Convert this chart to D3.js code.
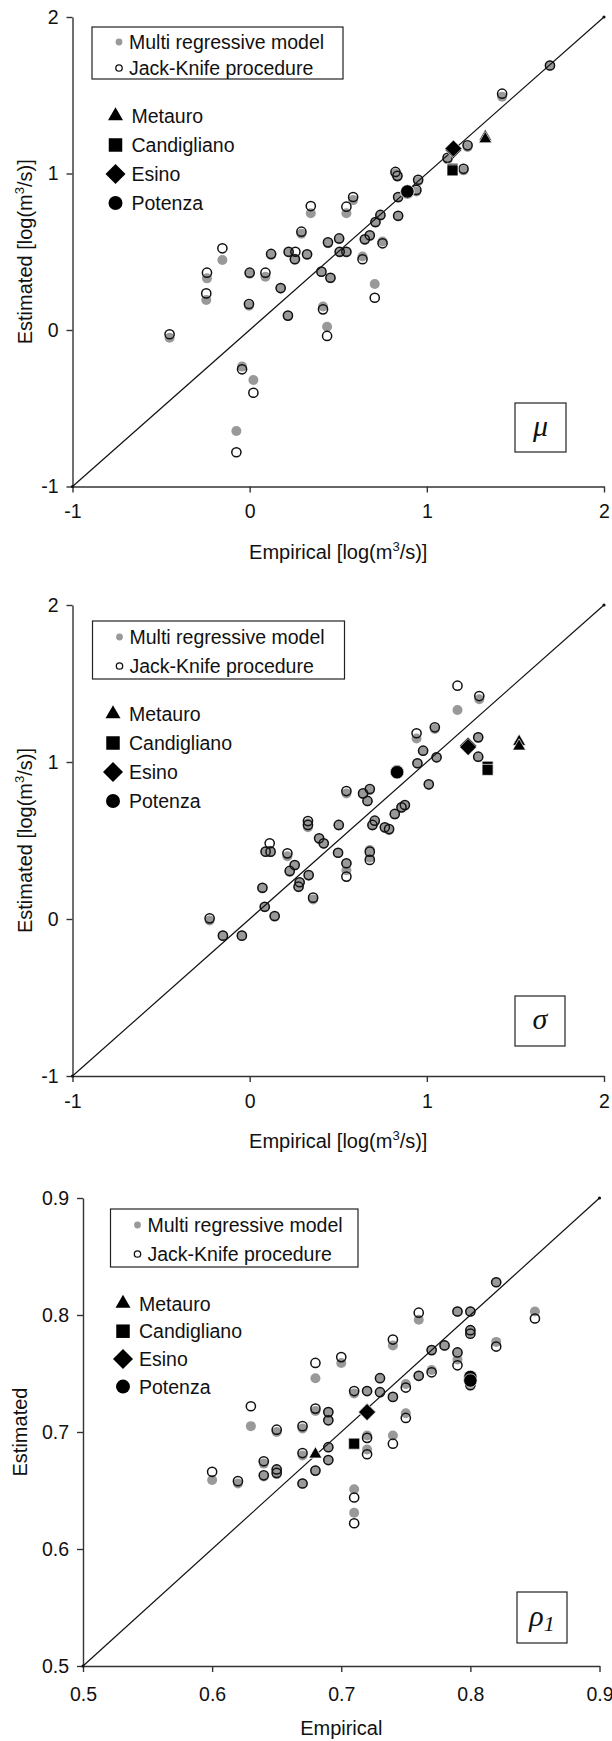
<!DOCTYPE html>
<html>
<head>
<meta charset="utf-8">
<script src="https://cdn.jsdelivr.net/npm/d3@7"></script>
<style>
  body { margin: 0; background: #fff; }
  svg { display: block; font-family: "Liberation Sans", Arial, Helvetica, sans-serif; }
</style>
</head>
<body>
<svg id="chart" width="612" height="1741"></svg>
<script>
// ---------- μ (mean of annual maxima, log m3/s) ----------
const muEmpirical = [1.695, 1.425, 1.23, 1.117, 1.207, 0.823, 0.834, 0.951, 0.941, 0.838,
  0.838, 0.584, 0.546, 0.345, 0.738, 0.710, 0.292, 0.678, 0.650, 0.750,
  0.505, 0.442, 0.508, 0.546, 0.637, 0.405, 0.456, 0.121, 0.220, 0.258,
  0.255, 0.324, 0.0, 0.089, -0.241, -0.154, -0.245, 0.175, -0.004, 0.216,
  0.414, 0.706, 0.437, -0.452, -0.043, 0.021, -0.075];
const muMultiRegressive = [1.69, 1.49, 1.17, 1.09, 1.02, 1.00, 0.98, 0.95, 0.885, 0.845,
  0.725, 0.83, 0.746, 0.746, 0.73, 0.685, 0.615, 0.60, 0.575, 0.565,
  0.58, 0.555, 0.495, 0.495, 0.47, 0.37, 0.33, 0.48, 0.495, 0.455,
  0.45, 0.48, 0.36, 0.34, 0.33, 0.447, 0.192, 0.265, 0.155, 0.09,
  0.15, 0.294, 0.021, -0.05, -0.234, -0.319, -0.645];
const muJackKnife = [1.69, 1.51, 1.18, 1.10, 1.03, 1.01, 0.985, 0.96, 0.895, 0.85,
  0.73, 0.85, 0.788, 0.792, 0.735, 0.69, 0.628, 0.605, 0.58, 0.554,
  0.585, 0.56, 0.50, 0.50, 0.452, 0.373, 0.334, 0.486, 0.50, 0.50,
  0.452, 0.484, 0.366, 0.366, 0.366, 0.522, 0.234, 0.268, 0.166, 0.092,
  0.132, 0.206, -0.038, -0.027, -0.251, -0.401, -0.781];
const muRiverEmpirical = [1.33, 1.145, 1.15, 0.89];
const muRiverMultiRegressive = [1.235, 1.03, 1.15, 0.88];
const muRiverJackKnife = [1.22, 1.02, 1.16, 0.885];

// ---------- σ (standard deviation, log m3/s) ----------
const sigmaEmpirical = [1.173, 1.296, 0.942, 1.045, 1.290, 1.290, 0.979, 1.055, 0.947, 1.011,
  0.546, 0.678, 0.640, 0.665, 0.876, 0.857, 0.819, 0.706, 0.693, 0.763,
  0.787, 0.503, 0.329, 0.329, 0.392, 0.418, 0.113, 0.090, 0.118, 0.213,
  0.499, 0.678, 0.678, 0.546, 0.546, 0.254, 0.226, 0.333, 0.282, 0.276,
  0.072, 0.358, 0.085, 0.141, -0.226, -0.151, -0.044];
const sigmaMultiRegressive = [1.331, 1.40, 1.15, 1.21, 1.157, 1.03, 1.07, 1.03, 0.99, 0.855,
  0.80, 0.82, 0.795, 0.75, 0.72, 0.71, 0.665, 0.62, 0.595, 0.58,
  0.565, 0.595, 0.61, 0.585, 0.51, 0.48, 0.435, 0.43, 0.425, 0.40,
  0.42, 0.44, 0.39, 0.35, 0.31, 0.34, 0.30, 0.275, 0.23, 0.205,
  0.195, 0.125, 0.075, 0.015, -0.01, -0.105, -0.105];
const sigmaJackKnife = [1.486, 1.42, 1.183, 1.221, 1.157, 1.034, 1.072, 1.030, 0.992, 0.858,
  0.815, 0.828, 0.80, 0.752, 0.726, 0.711, 0.669, 0.626, 0.599, 0.584,
  0.573, 0.599, 0.624, 0.599, 0.514, 0.482, 0.482, 0.429, 0.429, 0.418,
  0.422, 0.429, 0.376, 0.355, 0.27, 0.344, 0.306, 0.280, 0.234, 0.206,
  0.199, 0.136, 0.078, 0.019, 0.004, -0.106, -0.106];
const sigmaRiverEmpirical = [1.521, 1.343, 1.233, 0.832];
const sigmaRiverMultiRegressive = [1.13, 0.97, 1.105, 0.94];
const sigmaRiverJackKnife = [1.10, 0.95, 1.095, 0.935];

// ---------- ρ1 (lag-one autocorrelation) ----------
const rhoEmpirical = [0.82, 0.85, 0.76, 0.79, 0.80, 0.80, 0.80, 0.74, 0.82, 0.78,
  0.77, 0.79, 0.79, 0.70, 0.68, 0.77, 0.76, 0.80, 0.73, 0.71,
  0.72, 0.73, 0.75, 0.74, 0.63, 0.68, 0.69, 0.69, 0.75, 0.65,
  0.67, 0.72, 0.74, 0.72, 0.67, 0.69, 0.69, 0.64, 0.64, 0.65,
  0.65, 0.68, 0.67, 0.60, 0.62, 0.71, 0.71];
const rhoMultiRegressive = [0.828, 0.803, 0.796, 0.803, 0.803, 0.787, 0.785, 0.774, 0.777, 0.774,
  0.770, 0.768, 0.762, 0.759, 0.746, 0.753, 0.748, 0.740, 0.746, 0.733,
  0.735, 0.734, 0.741, 0.730, 0.705, 0.718, 0.717, 0.710, 0.716, 0.700,
  0.703, 0.697, 0.697, 0.685, 0.680, 0.687, 0.676, 0.673, 0.662, 0.668,
  0.664, 0.667, 0.656, 0.659, 0.656, 0.651, 0.631];
const rhoJackKnife = [0.828, 0.797, 0.802, 0.803, 0.803, 0.787, 0.784, 0.779, 0.773, 0.774,
  0.770, 0.768, 0.757, 0.764, 0.759, 0.751, 0.748, 0.740, 0.746, 0.735,
  0.735, 0.734, 0.738, 0.730, 0.722, 0.720, 0.717, 0.710, 0.712, 0.702,
  0.705, 0.695, 0.690, 0.681, 0.682, 0.687, 0.676, 0.675, 0.663, 0.668,
  0.665, 0.667, 0.656, 0.666, 0.658, 0.644, 0.622];
const rhoRiverEmpirical = [0.68, 0.71, 0.72, 0.80];
const rhoRiverMultiRegressive = [0.681, 0.690, 0.717, 0.747];
const rhoRiverJackKnife = [0.681, 0.690, 0.717, 0.744];

// ---------- shared labels ----------
const riverNames = ["Metauro", "Candigliano", "Esino", "Potenza"];
const seriesNames = ["Multi regressive model", "Jack-Knife procedure"];
const logTicks = [-1, 0, 1, 2];
const logTickLabels = ["-1", "0", "1", "2"];
const rhoTicks = [0.5, 0.6, 0.7, 0.8, 0.9];
const rhoTickLabels = ["0.5", "0.6", "0.7", "0.8", "0.9"];

// ---------- panel layout ----------
const panels = [
  {
    emp: muEmpirical, mr: muMultiRegressive, jk: muJackKnife,
    rEmp: muRiverEmpirical, rMr: muRiverMultiRegressive, rJk: muRiverJackKnife,
    domain: [-1, 2], ticks: logTicks, tickLabels: logTickLabels,
    left: 72.5, right: 604, top: 17, bottom: 486.5,
    xTitleBase: 559, yTitleX: 25, unit: true,
    legend: { x: 92, y: 27, w: 251, h: 52, d1: 15, d2: 41 },
    rivers: { x: 115.5, y0: 116, dy: 29 },
    tag: { x: 515, y: 403, w: 51, h: 49 }, symbol: "mu", xPad: 12
  },
  {
    emp: sigmaEmpirical, mr: sigmaMultiRegressive, jk: sigmaJackKnife,
    rEmp: sigmaRiverEmpirical, rMr: sigmaRiverMultiRegressive, rJk: sigmaRiverJackKnife,
    domain: [-1, 2], ticks: logTicks, tickLabels: logTickLabels,
    left: 72.5, right: 604, top: 605, bottom: 1076,
    xTitleBase: 1148, yTitleX: 25, unit: true,
    legend: { x: 92.5, y: 621, w: 252, h: 58, d1: 16, d2: 45 },
    rivers: { x: 113, y0: 714, dy: 29 },
    tag: { x: 515, y: 996, w: 50, h: 50 }, symbol: "sigma", xPad: 12
  },
  {
    emp: rhoEmpirical, mr: rhoMultiRegressive, jk: rhoJackKnife,
    rEmp: rhoRiverEmpirical, rMr: rhoRiverMultiRegressive, rJk: rhoRiverJackKnife,
    domain: [0.5, 0.9], ticks: rhoTicks, tickLabels: rhoTickLabels,
    left: 83, right: 599.5, top: 1198, bottom: 1666,
    xTitleBase: 1735, yTitleX: 20, unit: false,
    legend: { x: 110.5, y: 1209, w: 247.5, h: 58, d1: 16, d2: 45 },
    rivers: { x: 123, y0: 1303.5, dy: 27.7 },
    tag: { x: 517, y: 1592, w: 50, h: 51 }, symbol: "rho", xPad: 15
  }
];

const svg = d3.select("#chart");
const GREY = "#999999";
const FONT_TICK = 19.5, FONT_TITLE = 20, FONT_LEGEND = 19.5;

// black river markers (triangle, square, diamond, circle)
function riverPath(kind, s) {
  if (kind === 0) return d3.symbol(d3.symbolTriangle, s * s * Math.sqrt(3) / 4)();
  if (kind === 1) return d3.symbol(d3.symbolSquare, s * s)();
  if (kind === 2) { const h = s / 2; return `M0,${-h}L${h},0L0,${h}L${-h},0Z`; }
  return d3.symbol(d3.symbolCircle, Math.PI * (s / 2) * (s / 2))();
}
const chartSizes = [13, 11, 17, 13.5];
const legendSizes = [15, 13.5, 20, 14];

function unitText(sel, prefix) {
  sel.append("tspan").text(prefix + " [log(m");
  sel.append("tspan").attr("dy", -8).attr("font-size", 13).text("3");
  sel.append("tspan").attr("dy", 8).text("/s)]");
}

panels.forEach(p => {
  const x = d3.scaleLinear().domain(p.domain).range([p.left, p.right]);
  const y = d3.scaleLinear().domain(p.domain).range([p.bottom, p.top]);
  const g = svg.append("g");

  // axes
  const ax = g.append("g").attr("transform", `translate(0,${p.bottom})`)
    .call(d3.axisBottom(x).tickValues(p.ticks).tickFormat((d, i) => p.tickLabels[i])
      .tickSize(6).tickSizeOuter(0).tickPadding(p.xPad));
  const ay = g.append("g").attr("transform", `translate(${p.left},0)`)
    .call(d3.axisLeft(y).tickValues(p.ticks).tickFormat((d, i) => p.tickLabels[i])
      .tickSize(6).tickSizeOuter(0).tickPadding(8));
  [ax, ay].forEach(a => {
    a.select(".domain").attr("stroke", "#333").attr("stroke-width", 1.4);
    a.selectAll(".tick line").attr("stroke", "#333").attr("stroke-width", 1.4);
    a.selectAll(".tick text").attr("fill", "#111").attr("font-size", FONT_TICK)
      .attr("font-family", "Liberation Sans, Arial, sans-serif");
  });

  // axis titles
  const xt = g.append("text").attr("x", (p.left + p.right) / 2).attr("y", p.xTitleBase)
    .attr("text-anchor", "middle").attr("font-size", FONT_TITLE).attr("fill", "#111");
  const yt = g.append("text")
    .attr("transform", `translate(${p.yTitleX + 7},${(p.top + p.bottom) / 2}) rotate(-90)`)
    .attr("text-anchor", "middle").attr("font-size", FONT_TITLE).attr("fill", "#111");
  if (p.unit) { unitText(xt, "Empirical"); unitText(yt, "Estimated"); }
  else { xt.text("Empirical"); yt.text("Estimated"); }

  // multi regressive estimates
  g.append("g").selectAll("circle").data(p.emp).join("circle")
    .attr("cx", d => x(d)).attr("cy", (d, i) => y(p.mr[i])).attr("r", 5)
    .attr("fill", GREY);
  // jack-knife estimates
  g.append("g").selectAll("circle").data(p.emp).join("circle")
    .attr("cx", d => x(d)).attr("cy", (d, i) => y(p.jk[i])).attr("r", 4.6)
    .attr("fill", "none").attr("stroke", "#111").attr("stroke-width", 1.5);

  // 1:1 line
  g.append("line")
    .attr("x1", x(p.domain[0])).attr("y1", y(p.domain[0]))
    .attr("x2", x(p.domain[1])).attr("y2", y(p.domain[1]))
    .attr("stroke", "#111").attr("stroke-width", 1.2);
  g.selectAll(".endmark").data(p.domain).join("circle").attr("class", "endmark")
    .attr("cx", d => x(d)).attr("cy", d => y(d)).attr("r", 1.6).attr("fill", "#111");

  // highlighted rivers (both estimates)
  [p.rMr, p.rJk].forEach(vals => {
    g.append("g").selectAll("path").data(p.rEmp).join("path")
      .attr("transform", (d, i) => `translate(${x(d)},${y(vals[i])})`)
      .attr("d", (d, i) => riverPath(i, chartSizes[i]))
      .attr("fill", "#000").attr("stroke", "#fff").attr("stroke-width", 0.7);
  });

  // legend: series
  const L = p.legend;
  g.append("rect").attr("x", L.x).attr("y", L.y).attr("width", L.w).attr("height", L.h)
    .attr("fill", "#fff").attr("stroke", "#222").attr("stroke-width", 1.2);
  g.append("circle").attr("cx", L.x + 27).attr("cy", L.y + L.d1).attr("r", 3.4).attr("fill", GREY);
  g.append("circle").attr("cx", L.x + 27).attr("cy", L.y + L.d2).attr("r", 3.2)
    .attr("fill", "none").attr("stroke", "#111").attr("stroke-width", 1.3);
  g.append("text").attr("x", L.x + 37).attr("y", L.y + L.d1 + 7).attr("font-size", FONT_LEGEND)
    .attr("fill", "#111").text(seriesNames[0]);
  g.append("text").attr("x", L.x + 37).attr("y", L.y + L.d2 + 7).attr("font-size", FONT_LEGEND)
    .attr("fill", "#111").text(seriesNames[1]);

  // legend: rivers
  const R = p.rivers;
  riverNames.forEach((name, i) => {
    const cy = R.y0 + i * R.dy;
    g.append("path").attr("transform", `translate(${R.x},${cy})`)
      .attr("d", riverPath(i, legendSizes[i])).attr("fill", "#000");
    g.append("text").attr("x", R.x + 16).attr("y", cy + 7).attr("font-size", FONT_LEGEND)
      .attr("fill", "#111").text(name);
  });

  // parameter tag
  const T = p.tag;
  g.append("rect").attr("x", T.x).attr("y", T.y).attr("width", T.w).attr("height", T.h)
    .attr("fill", "#fff").attr("stroke", "#222").attr("stroke-width", 1.2);
  const tg = g.append("text").attr("x", T.x + T.w / 2).attr("y", T.y + T.h / 2 + 8)
    .attr("text-anchor", "middle").attr("font-family", "Liberation Serif, Times New Roman, serif")
    .attr("font-style", "italic").attr("font-size", 30).attr("fill", "#111");
  if (p.symbol === "mu") tg.text("μ");
  else if (p.symbol === "sigma") tg.text("σ");
  else {
    tg.append("tspan").text("ρ");
    tg.append("tspan").attr("font-size", 22).attr("dy", 5).text("1");
  }
});
</script>
</body>
</html>
